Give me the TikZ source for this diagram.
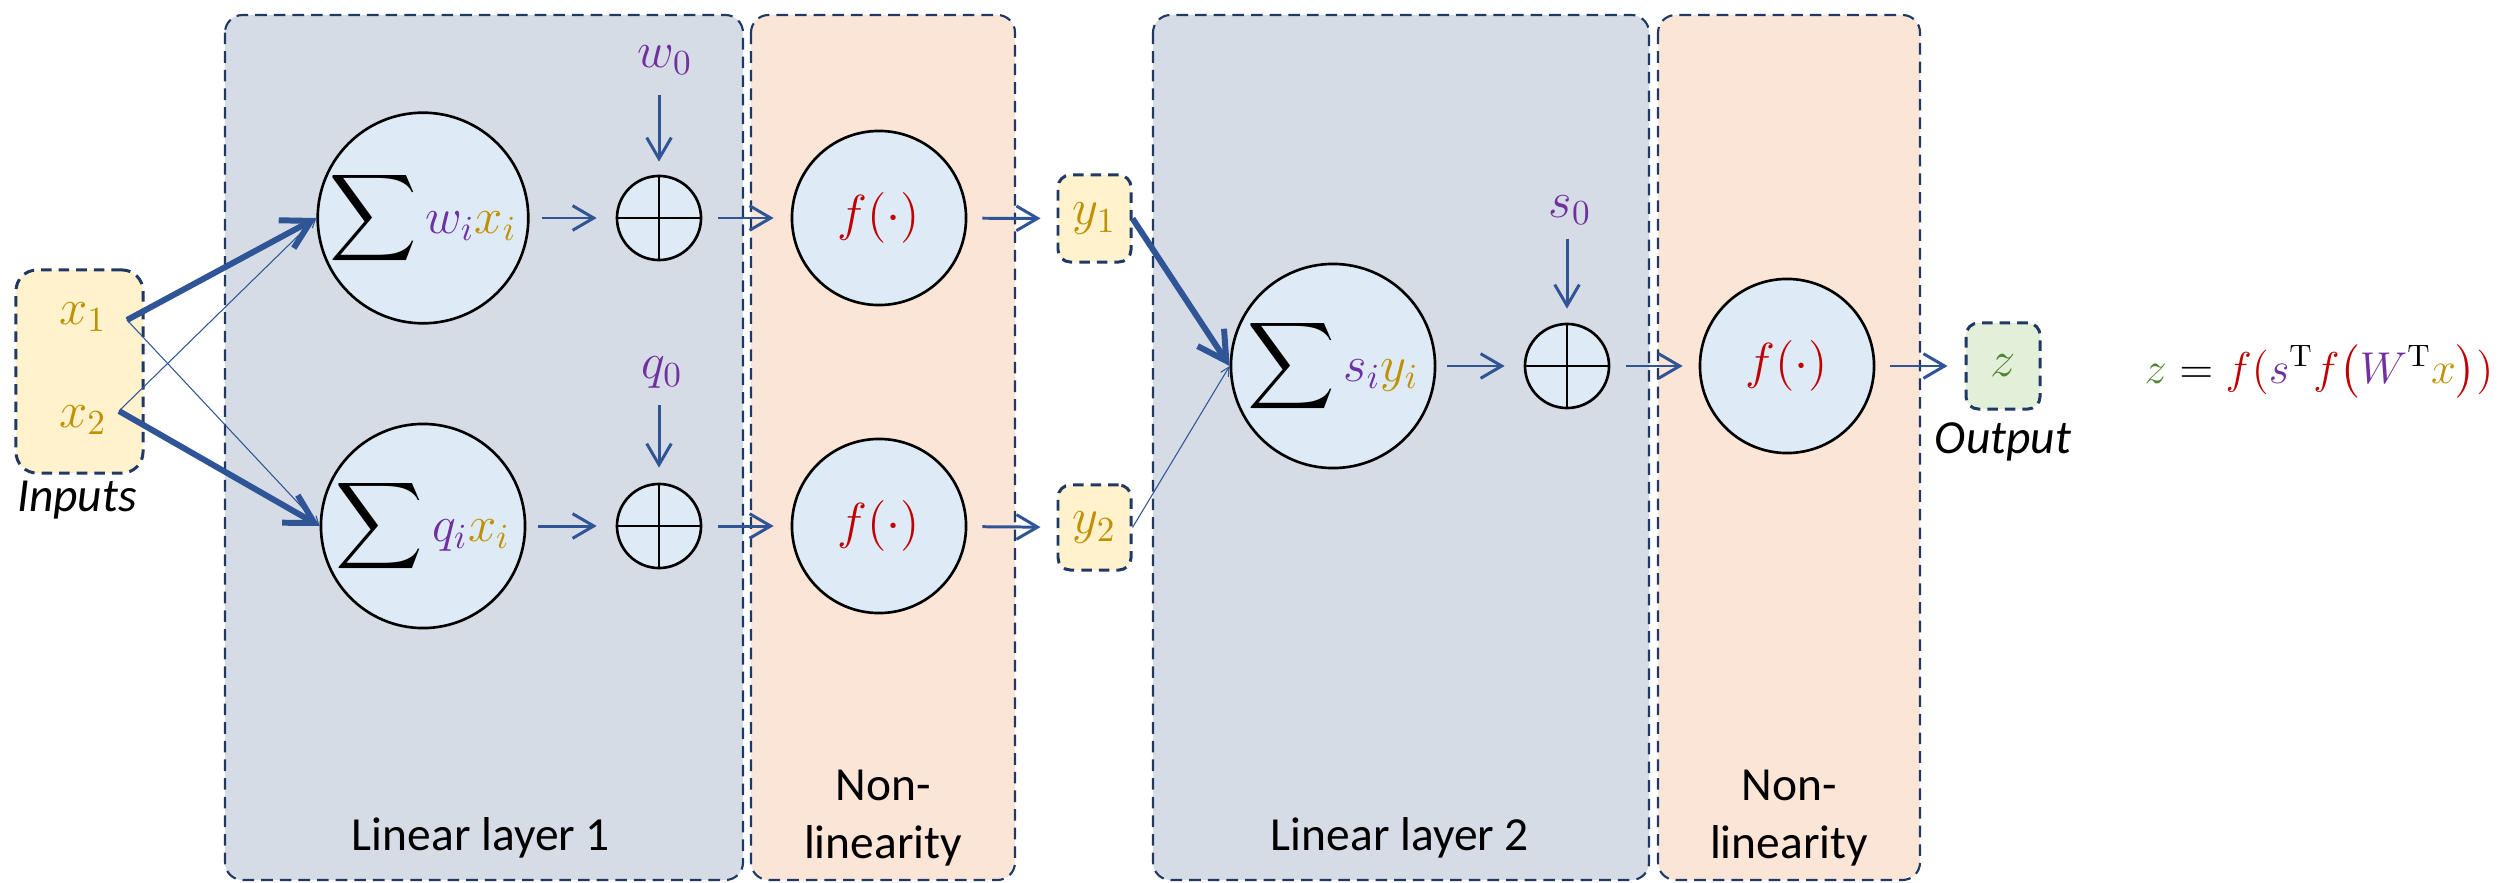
\documentclass[tikz,border=0pt]{standalone}
\usepackage{amsmath}
\usepackage[no-math]{fontspec}
\setmainfont{Carlito}
\usetikzlibrary{arrows.meta}
\definecolor{panelblue}{HTML}{D6DCE5}
\definecolor{panelorange}{HTML}{FBE5D6}
\definecolor{nodefill}{HTML}{DEEBF7}
\definecolor{inputfill}{HTML}{FFF2CC}
\definecolor{outfill}{HTML}{E2F0D9}
\definecolor{dashcol}{HTML}{1F3864}
\definecolor{arrcol}{HTML}{2F5597}
\definecolor{cgold}{HTML}{BF9000}
\definecolor{cpurple}{HTML}{7030A0}
\definecolor{cred}{HTML}{C00000}
\definecolor{cgreen}{HTML}{548235}
\newcommand\myMathSize{\fontsize{14.4}{18}\selectfont}
\newcommand\myLabSize{\fontsize{13.5}{16.5}\selectfont}
\newcommand\mySumSym{{\fontsize{17.28}{20}\selectfont$\displaystyle\sum$}}
\begin{document}
\begin{tikzpicture}[x=0.01cm,y=-0.01cm,
  panelA/.style={draw=dashcol, line width=0.6pt, dash pattern=on 3.3pt off 2pt, rounded corners=5pt, fill=panelblue},
  panelB/.style={panelA, fill=panelorange},
  bigc/.style={circle, draw=black, line width=0.75pt, fill=nodefill, minimum size=2.04cm, inner sep=0pt, font=\myMathSize},
  fc/.style={circle, draw=black, line width=0.75pt, fill=nodefill, minimum size=1.74cm, inner sep=0pt, font=\myMathSize},
  plusc/.style={circle, draw=black, line width=0.75pt, fill=nodefill, minimum size=0.84cm, inner sep=0pt},
  valbox/.style={draw=dashcol, line width=0.85pt, dash pattern=on 3pt off 2pt, rounded corners=3.5pt, inner sep=0pt, font=\myMathSize},
  mlab/.style={font=\myMathSize, inner sep=1pt},
  tlab/.style={font=\myLabSize, align=center, inner sep=0pt},
  arr/.style={draw=arrcol, line width=0.85pt, -{Straight Barb[length=6pt,width=7pt]}},
  thickarr/.style={draw=arrcol, line width=1.7pt, -{Straight Barb[length=8pt,width=9pt]}},
  thinarr/.style={draw=arrcol, line width=0.3pt, -{Straight Barb[length=2.5pt,width=2.5pt]}}
]
\useasboundingbox (0,0) rectangle (2501,882);
% panels
\draw[panelA] (225,15) rectangle (743,880);
\draw[panelB] (751,15) rectangle (1015,880);
\draw[panelA] (1153,15) rectangle (1649,880);
\draw[panelB] (1658,15) rectangle (1920,880);
\node[tlab] (lab1) at (481,838) {Linear layer 1};
\node[tlab] (lab2) at (883,818) {Non-\\linearity};
\node[tlab] (lab3) at (1400,838) {Linear layer 2};
\node[tlab] (lab4) at (1789,818) {Non-\\linearity};
% inputs
\node[valbox, fill=inputfill, rounded corners=6pt, minimum width=1.27cm, minimum height=2.03cm] (inp) at (79.5,371.5) {};
\node[mlab, text=cgold] (x1) at (83,317) {$x_1$};
\node[mlab, text=cgold] (x2) at (83,420) {$x_2$};
\coordinate (x1p) at (127,320);
\coordinate (x2p) at (119,411);
\node[tlab, font=\myLabSize\itshape] (inlab) at (77,500) {Inputs};
% layer 1 nodes
\node[bigc] (s1) at (423,218) {\mySumSym$\,\textcolor{cpurple}{w_i}\textcolor{cgold}{x_i}$};
\node[bigc] (s2) at (423,526) {\mySumSym$\,\textcolor{cpurple}{q_i}\textcolor{cgold}{x_i}$};
\node[plusc] (p1) at (659,218) {};
\node[plusc] (p2) at (659,526) {};
\draw[line width=0.75pt] (p1.north) -- (p1.south) (p1.west) -- (p1.east);
\draw[line width=0.75pt] (p2.north) -- (p2.south) (p2.west) -- (p2.east);
\node[mlab, text=cpurple] (w0) at (665,60) {$w_0$};
\node[mlab, text=cpurple] (q0) at (662,373) {$q_0$};
\node[fc] (f1) at (879,218) {$\textcolor{cred}{f(\cdot)}$};
\node[fc] (f2) at (879,526) {$\textcolor{cred}{f(\cdot)}$};
\node[valbox, fill=inputfill, minimum width=0.73cm, minimum height=0.87cm, text=cgold] (y1) at (1094.5,218.5) {$y_1$};
\node[valbox, fill=inputfill, minimum width=0.73cm, minimum height=0.85cm, text=cgold] (y2) at (1094.5,527.5) {$y_2$};
% layer 2 nodes
\node[bigc] (s3) at (1333,366) {\mySumSym$\,\textcolor{cpurple}{s_i}\textcolor{cgold}{y_i}$};
\node[plusc] (p3) at (1567,366) {};
\draw[line width=0.75pt] (p3.north) -- (p3.south) (p3.west) -- (p3.east);
\node[mlab, text=cpurple] (s0) at (1570,210) {$s_0$};
\node[fc] (f3) at (1787,366) {$\textcolor{cred}{f(\cdot)}$};
\node[valbox, fill=outfill, minimum width=0.74cm, minimum height=0.86cm, text=cgreen] (z) at (2003,366) {$z$};
\node[tlab, font=\myLabSize\itshape] (outlab) at (2003,442) {Output};
\node[mlab, anchor=base east, inner sep=0pt] (eq) at (2494,383) {\scalebox{0.88}{$\textcolor{cgreen}{z} = \textcolor{cred}{f(}\textcolor{cpurple}{s}^{\mathrm{T}}\textcolor{cred}{f\big(}\textcolor{cpurple}{W}^{\mathrm{T}}\textcolor{cgold}{x}\textcolor{cred}{\big))}$}};
% connectors
\draw[thickarr] (x1p) -- (s1.west);
\draw[thinarr] (x1p) -- (s2.west);
\draw[thinarr] (x2p) -- (s1.west);
\draw[thickarr] (x2p) -- (s2.west);
\draw[arr, shorten <=0.12cm, shorten >=0.19cm] (s1) -- (p1);
\draw[arr, shorten <=0.12cm, shorten >=0.19cm] (s2) -- (p2);
\draw[arr, shorten <=0.16cm, shorten >=0.17cm] (p1) -- (f1);
\draw[arr, shorten <=0.16cm, shorten >=0.17cm] (p2) -- (f2);
\draw[arr, shorten <=0.15cm, shorten >=0.16cm] (f1) -- (y1);
\draw[arr, shorten <=0.15cm, shorten >=0.16cm] (f2) -- (y2);
\draw[arr, shorten <=0.16cm, shorten >=0.13cm] (p1 |- w0.south) -- (p1.north);
\draw[arr, shorten <=0.12cm, shorten >=0.15cm] (p2 |- q0.south) -- (p2.north);
\draw[arr, shorten <=0.10cm, shorten >=0.14cm] (p3 |- s0.south) -- (p3.north);
\draw[thickarr] (y1.east) -- (s3.west);
\draw[thinarr] (y2.east) -- (s3.west);
\draw[arr, shorten <=0.11cm, shorten >=0.19cm] (s3) -- (p3);
\draw[arr, shorten <=0.16cm, shorten >=0.16cm] (p3) -- (f3);
\draw[arr, shorten <=0.15cm, shorten >=0.17cm] (f3) -- (z);
\end{tikzpicture}
\end{document}
